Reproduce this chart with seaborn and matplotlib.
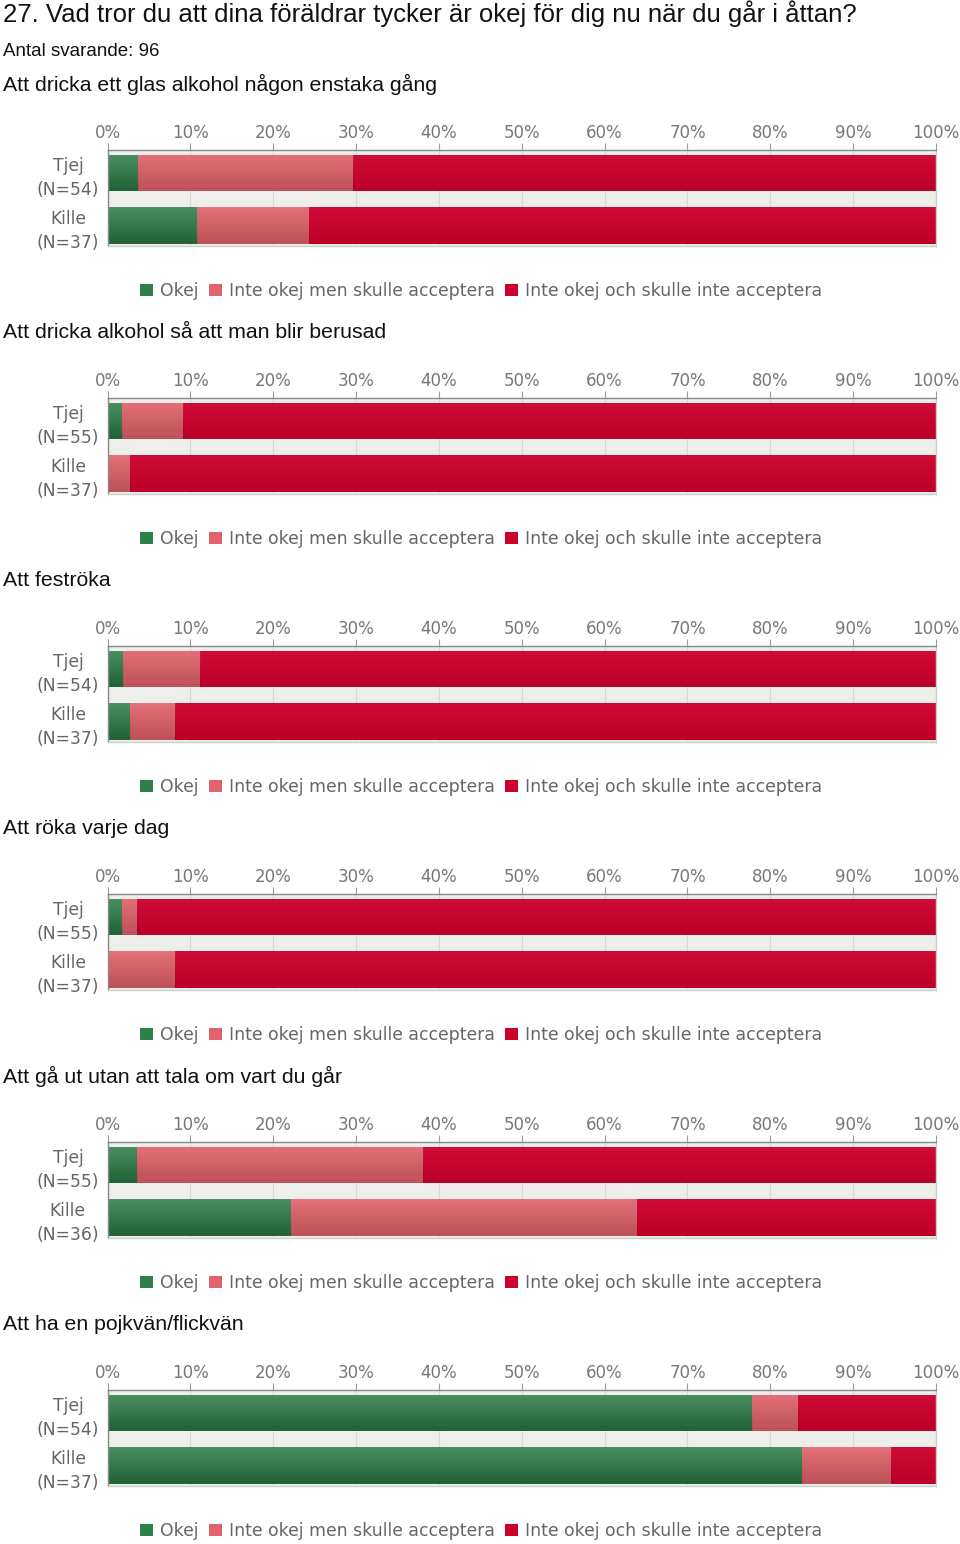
import numpy as np
import pandas as pd
import matplotlib
matplotlib.use("Agg")
import matplotlib.pyplot as plt
from matplotlib.patches import Patch
import seaborn as sns

title = "27. Vad tror du att dina föräldrar tycker är okej för dig nu när du går i åttan?"
subtitle = "Antal svarande: 96"
questions = [
    "Att dricka ett glas alkohol någon enstaka gång",
    "Att dricka alkohol så att man blir berusad",
    "Att feströka",
    "Att röka varje dag",
    "Att gå ut utan att tala om vart du går",
    "Att ha en pojkvän/flickvän",
]
categories = ["Okej", "Inte okej men skulle acceptera", "Inte okej och skulle inte acceptera"]
n_tjej = [54, 55, 54, 55, 55, 54]
n_kille = [37, 37, 37, 37, 36, 37]

okej_tjej = [3.7, 1.8, 1.9, 1.8, 3.6, 77.8]
pink_tjej = [25.9, 7.3, 9.3, 1.8, 34.5, 5.6]
red_tjej = [70.4, 90.9, 88.8, 96.4, 61.9, 16.6]

okej_kille = [10.8, 0.0, 2.7, 0.0, 22.2, 83.8]
pink_kille = [13.5, 2.7, 5.4, 8.1, 41.7, 10.8]
red_kille = [75.7, 97.3, 91.9, 91.9, 36.1, 5.4]

xticks = list(range(0, 101, 10))
xticklabels = [f"{v}%" for v in xticks]

colors = ["#2f7f4b", "#e0626a", "#cc002d"]

sns.set_theme(style="white")
plt.rcParams["font.family"] = ["DejaVu Sans"]

W, H = 960, 1544
fig = plt.figure(figsize=(W / 100, H / 100), dpi=100)
fig.patch.set_facecolor("white")

def fy(y):
    return 1 - y / H

fig.text(3 / W, fy(14), title, fontsize=18.5, family="Liberation Sans", va="center", ha="left", color="#111111")
fig.text(3 / W, fy(51), subtitle, fontsize=13.5, family="Liberation Sans", va="center", ha="left", color="#111111")

grad = np.linspace(0, 1, 64).reshape(-1, 1)
grad_rgba = np.zeros((64, 1, 4))
grad_rgba[..., 3] = (grad * 0.08)[:, :]
top_rgba = np.ones((64, 1, 4))
top_rgba[..., 3] = ((1 - grad) * 0.05)[:, :]

for i, q in enumerate(questions):
    off = 248 * i
    fig.text(3 / W, fy(84 + off), q, fontsize=15.3, family="Liberation Sans", va="center", ha="left", color="#111111")

    ax = fig.add_axes([107.5 / W, fy(246 + off), (936 - 107.5) / W, 96 / H])
    ax.set_facecolor("#eeeeea")
    labels = [f"Tjej\n(N={n_tjej[i]})", f"Kille\n(N={n_kille[i]})"]
    vals = np.array([[okej_tjej[i], pink_tjej[i], red_tjej[i]],
                     [okej_kille[i], pink_kille[i], red_kille[i]]])
    cum = np.cumsum(vals, axis=1)
    for k in [2, 1, 0]:
        df = pd.DataFrame({"grupp": labels, "val": cum[:, k]})
        sns.barplot(data=df, x="val", y="grupp", color=colors[k], saturation=1,
                    width=0.7, orient="h", ax=ax, linewidth=0)
    # subtle vertical gradient on bars
    for p in list(ax.patches):
        bb = p.get_bbox()
        if bb.width <= 0:
            continue
        ext = [bb.x0, bb.x1, bb.y1, bb.y0]
        im = ax.imshow(grad_rgba, extent=ext, aspect="auto", zorder=p.get_zorder() + 0.1,
                       interpolation="bilinear")
        im.set_clip_path(p)
        im2 = ax.imshow(top_rgba, extent=ext, aspect="auto", zorder=p.get_zorder() + 0.1,
                        interpolation="bilinear")
        im2.set_clip_path(p)

    ax.set_xlim(0, 100)
    ax.set_ylim(1.39, -0.44)
    ax.set_xlabel("")
    ax.set_ylabel("")
    ax.xaxis.tick_top()
    ax.set_xticks(xticks)
    ax.set_xticklabels(xticklabels)
    ax.tick_params(axis="x", which="both", top=True, bottom=False, length=5, width=0.8,
                   color="#999999", labelsize=12, labelcolor="#777777", pad=1, direction="out")
    ax.tick_params(axis="y", left=False, length=0, labelsize=12.3, labelcolor="#666666", pad=6)
    for t in ax.get_yticklabels():
        t.set_multialignment("center")
        t.set_linespacing(1.45)
    ax.grid(axis="x", color="#d9d9d6", linewidth=0.8)
    ax.grid(axis="y", visible=False)
    ax.set_axisbelow(True)
    for s in ["top", "left"]:
        ax.spines[s].set_color("#8a8a8a")
        ax.spines[s].set_linewidth(1.0)
    for s in ["right", "bottom"]:
        ax.spines[s].set_color("#cfcfcf")
        ax.spines[s].set_linewidth(1.0)

    handles = [Patch(facecolor=c, edgecolor="none", label=l) for c, l in zip(colors, categories)]
    fig.legend(handles=handles, loc="center", bbox_to_anchor=(481 / W, fy(291 + off)),
               ncol=3, frameon=False, fontsize=12.4, handlelength=0.75, handleheight=0.75,
               handletextpad=0.4, columnspacing=0.6, labelcolor="#666666")

fig.savefig("out.png", dpi=100, facecolor="white")
